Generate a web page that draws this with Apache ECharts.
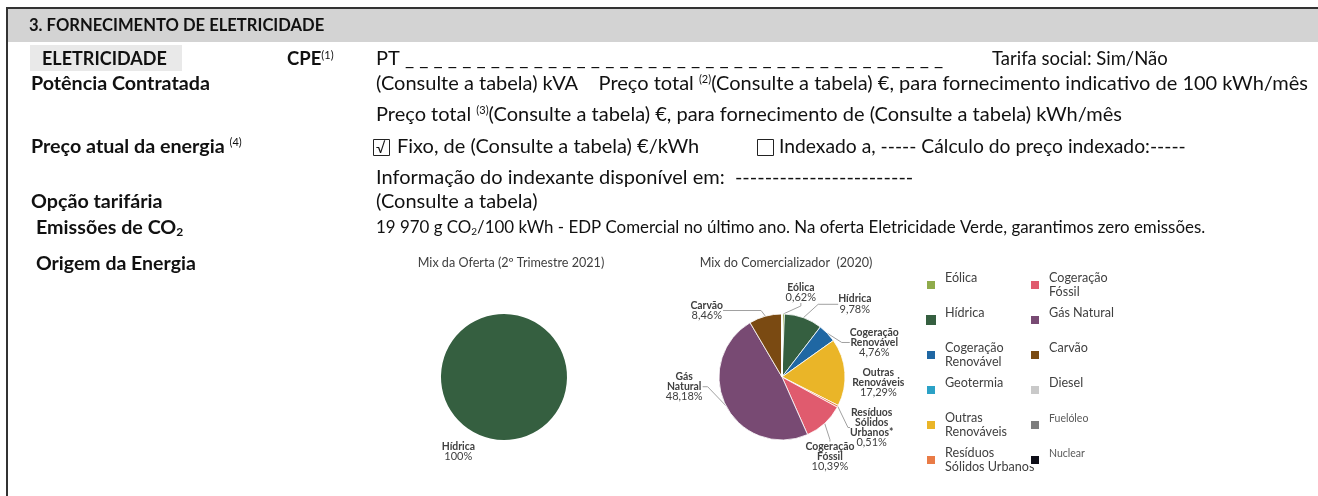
<!DOCTYPE html>
<html>
<head>
<meta charset="utf-8">
<script src="https://cdn.jsdelivr.net/npm/echarts@6/dist/echarts.min.js"></script>
<style>
  html, body { margin: 0; padding: 0; background: #fff; }
  #grafico { width: 1318px; height: 496px; }
</style>
</head>
<body>
<div id="grafico"></div>
<script>
// dados dos dois gráficos
const ofertaNomes = ["Hídrica"];
const ofertaValores = [100];

const mixNomes = ["Eólica", "Hídrica", "Cogeração Renovável", "Outras Renováveis",
  "Resíduos Sólidos Urbanos", "Cogeração Fóssil", "Gás Natural", "Carvão",
  "Geotermia", "Diesel", "Fuelóleo", "Nuclear"];
const mixValores = [0.62, 9.78, 4.76, 17.29, 0.51, 10.39, 48.18, 8.46, 0, 0, 0, 0];

const legendaEsq = ["Eólica", "Hídrica", "Cogeração Renovável", "Geotermia", "Outras Renováveis", "Resíduos Sólidos Urbanos"];
const legendaDir = ["Cogeração Fóssil", "Gás Natural", "Carvão", "Diesel", "Fuelóleo", "Nuclear"];

// estilos
const cores = {
  "Eólica": "#8fab4b", "Hídrica": "#355f40", "Cogeração Renovável": "#1f67a3",
  "Outras Renováveis": "#eab528", "Resíduos Sólidos Urbanos": "#e97b46",
  "Cogeração Fóssil": "#e05b6e", "Gás Natural": "#784a73", "Carvão": "#7a4a12",
  "Geotermia": "#2ba1c6", "Diesel": "#c9c9c9", "Fuelóleo": "#7e7e7e", "Nuclear": "#0e0e18"
};
const rotulos = {
  "Cogeração Renovável": "Cogeração\nRenovável", "Outras Renováveis": "Outras\nRenováveis",
  "Resíduos Sólidos Urbanos": "Resíduos\nSólidos\nUrbanos*", "Cogeração Fóssil": "Cogeração\nFóssil",
  "Gás Natural": "Gás\nNatural"
};
const textoLegenda = {
  "Cogeração Renovável": "Cogeração\nRenovável", "Outras Renováveis": "Outras\nRenováveis",
  "Resíduos Sólidos Urbanos": "Resíduos\nSólidos Urbanos", "Cogeração Fóssil": "Cogeração\nFóssil"
};
// comprimento da 2ª perna da linha guia e deslocamento do rótulo
const linha2 = {
  "Eólica": 3, "Hídrica": 20, "Cogeração Renovável": 8, "Outras Renováveis": 6,
  "Resíduos Sólidos Urbanos": 2, "Cogeração Fóssil": 2, "Gás Natural": 5, "Carvão": 38
};
const desloc = {
  "Eólica": [11.5, -15.8], "Hídrica": [26.4, -8.3], "Cogeração Renovável": [31.6, 12.9],
  "Outras Renováveis": [18.5, 10.2], "Resíduos Sólidos Urbanos": [23.6, 17.9],
  "Cogeração Fóssil": [-3.8, 28.6], "Gás Natural": [-28.4, -22.3], "Carvão": [-16.1, -0.4]
};
const deslocOferta = [1.2, 14.9];

const FONTE = "Lato";
const cinza = "#404040";
const C1 = [504, 377], C2 = [782, 377], RAIO = 63;

function pct(v) {
  return Number.isInteger(v) ? v + "%" : v.toFixed(2).replace(".", ",") + "%";
}
function rotulo(p) {
  const nome = rotulos[p.name] || p.name;
  return nome.split("\n").map(l => "{b|" + l + "}").join("\n") + "\n{v|" + pct(p.value) + "}";
}
const richRotulo = {
  b: { fontFamily: FONTE, fontSize: 10.4, fontWeight: "bold", color: cinza, align: "center", lineHeight: 10 },
  v: { fontFamily: FONTE, fontSize: 11, color: cinza, align: "center", lineHeight: 10 }
};
function posRotulo(cx, off) {
  return function (p) {
    const o = off(p.dataIndex);
    if (!o) return {};
    const r = p.labelRect;
    const ax = (r.x + r.width / 2 < cx) ? r.x + r.width : r.x;
    const ay = r.y + r.height / 2;
    return { x: ax + o[0], y: ay + o[1], align: "center", verticalAlign: "middle" };
  };
}

function txt(x, y, text, size, bold, extra) {
  return {
    type: "text", x: x, y: y, silent: true,
    style: Object.assign({
      text: text, fontFamily: FONTE, fontSize: size, fontWeight: bold ? "bold" : "normal",
      fill: "#111", verticalAlign: "middle", align: "left"
    }, extra || {})
  };
}
function richSup(size, bold) {
  return {
    sup: { fontFamily: FONTE, fontSize: 11, fill: "#111", verticalAlign: "top", lineHeight: size },
    sub: { fontFamily: FONTE, fontSize: Math.round(size * 0.62), fontWeight: bold ? "bold" : "normal",
      fill: "#111", verticalAlign: "bottom", lineHeight: size - 5 }
  };
}

const grafico = echarts.init(document.getElementById("grafico"), null, { renderer: "canvas" });

const tracos = "PT" + " _".repeat(38);
const XD = 376;

const elementos = [
  // moldura e faixa do título
  { type: "rect", shape: { x: 8, y: 9, width: 1310, height: 33 }, style: { fill: "#d3d3d3" }, silent: true },
  { type: "line", shape: { x1: 7, y1: 8, x2: 1318, y2: 8 }, style: { stroke: "#333", lineWidth: 2 }, silent: true },
  { type: "line", shape: { x1: 7, y1: 7, x2: 7, y2: 496 }, style: { stroke: "#333", lineWidth: 2 }, silent: true },
  { type: "rect", shape: { x: 30, y: 45, width: 152, height: 26 }, style: { fill: "#e9e9e9" }, silent: true },
  txt(29, 26, "3. FORNECIMENTO DE ELETRICIDADE", 16.6, true),

  txt(42, 59, "ELETRICIDADE", 18, true),
  txt(287, 59, "CPE{sup|(1)}", 18.5, true, { rich: richSup(18.5) }),
  txt(XD, 59, tracos, 20, false),
  txt(992, 59, "Tarifa social: Sim/Não", 18.5, false),

  txt(31, 84, "Potência Contratada", 19.7, true),
  txt(XD, 84, "(Consulte a tabela) kVA    Preço total {sup|(2)}(Consulte a tabela) €, para fornecimento indicativo de 100 kWh/mês", 20, false, { rich: richSup(20) }),
  txt(XD, 115, "Preço total {sup|(3)}(Consulte a tabela) €, para fornecimento de (Consulte a tabela) kWh/mês", 20, false, { rich: richSup(20) }),

  txt(31, 147, "Preço atual da energia {sup|(4)}", 19.7, true, { rich: richSup(19.7) }),
  { type: "rect", shape: { x: 373.5, y: 139.5, width: 16, height: 16 }, style: { fill: "none", stroke: "#222", lineWidth: 1 }, silent: true },
  txt(376, 148, "√", 15, false),
  txt(397, 147, "Fixo, de (Consulte a tabela) €/kWh", 20, false),
  { type: "rect", shape: { x: 757.5, y: 139.5, width: 16, height: 16 }, style: { fill: "none", stroke: "#222", lineWidth: 1 }, silent: true },
  txt(779, 147, "Indexado a, ----- Cálculo do preço indexado:-----", 19.3, false),

  txt(XD, 178, "Informação do indexante disponível em:  ------------------------", 20, false),
  txt(31, 202, "Opção tarifária", 19.7, true),
  txt(XD, 202, "(Consulte a tabela)", 20, false),

  txt(36, 228, "Emissões de CO{sub|2}", 19.7, true, { rich: richSup(19.7, true) }),
  txt(XD, 228, "19 970 g CO{sub|2}/100 kWh - EDP Comercial no último ano. Na oferta Eletricidade Verde, garantimos zero emissões.", 16.9, false, { rich: richSup(16.9) }),
  txt(36, 264, "Origem da Energia", 19.5, true)
];

const legendaBase = {
  orient: "vertical", icon: "rect", itemWidth: 10, itemHeight: 10, itemGap: -5.5, padding: 0,
  selectedMode: false,
  formatter: n => textoLegenda[n] || (n + "\n"),
  textStyle: { fontFamily: FONTE, fontSize: 12.6, color: cinza, lineHeight: 13.5, padding: [13.5, 0, 0, 4] }
};
function itensLegenda(lista) {
  return lista.map(n => (n === "Fuelóleo" || n === "Nuclear")
    ? { name: n, textStyle: { fontSize: 10.5, color: "#595959" } }
    : { name: n });
}

const opciones = {
  animation: false,
  title: [
    { text: "Mix da Oferta (2º Trimestre 2021)", left: 506, top: 251, textAlign: "center",
      textStyle: { fontFamily: FONTE, fontSize: 12.6, fontWeight: "normal", color: cinza } },
    { text: "Mix do Comercializador  (2020)", left: 781, top: 251, textAlign: "center",
      textStyle: { fontFamily: FONTE, fontSize: 12.6, fontWeight: "normal", color: cinza } }
  ],
  legend: [
    Object.assign({}, legendaBase, { left: 925, top: 264.75, data: itensLegenda(legendaEsq) }),
    Object.assign({}, legendaBase, { left: 1029, top: 264.75, data: itensLegenda(legendaDir) })
  ],
  graphic: { elements: elementos },
  series: [
    {
      type: "pie", center: C1, radius: RAIO, startAngle: 55, silent: true, avoidLabelOverlap: false,
      label: { formatter: rotulo, rich: richRotulo },
      labelLine: { show: false, length: 10, length2: 0 },
      labelLayout: posRotulo(C1[0], () => deslocOferta),
      data: ofertaNomes.map((n, i) => ({ name: n, value: ofertaValores[i], itemStyle: { color: cores[n] } }))
    },
    {
      type: "pie", center: C2, radius: RAIO, startAngle: 90, silent: true, avoidLabelOverlap: false,
      itemStyle: { borderColor: "#fff", borderWidth: 0.8 },
      label: { formatter: rotulo, rich: richRotulo, distanceToLabelLine: 3 },
      labelLine: { length: 6, length2: 6, lineStyle: { color: "#a0a0a0", width: 1 } },
      labelLayout: posRotulo(C2[0], i => desloc[mixNomes[i]]),
      data: mixNomes.map((n, i) => {
        const item = { name: n, value: mixValores[i], itemStyle: { color: cores[n] } };
        if (linha2[n] != null) {
          item.labelLine = { length2: linha2[n], show: n !== "Outras Renováveis" };
        } else {
          item.label = { show: false };
          item.labelLine = { show: false };
        }
        return item;
      })
    }
  ]
};

grafico.setOption(opciones);
</script>
</body>
</html>
